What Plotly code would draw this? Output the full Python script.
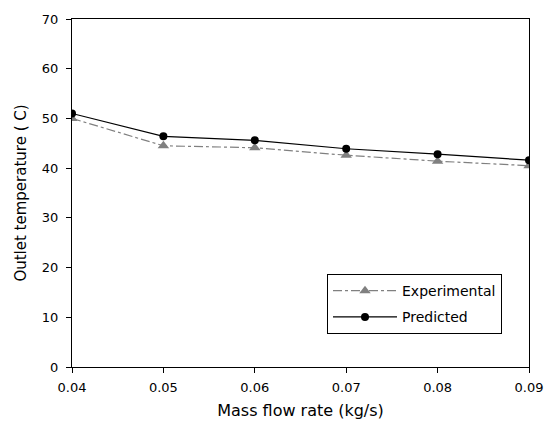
import plotly.graph_objects as go

mass_flow = [0.04, 0.05, 0.06, 0.07, 0.08, 0.09]
experimental = [50.0, 44.5, 44.1, 42.6, 41.4, 40.5]
predicted = [51.0, 46.4, 45.6, 43.9, 42.8, 41.6]

x_ticks = [0.04, 0.05, 0.06, 0.07, 0.08, 0.09]
x_tick_labels = ["0.04", "0.05", "0.06", "0.07", "0.08", "0.09"]
y_ticks = [0, 10, 20, 30, 40, 50, 60, 70]

FONT = "DejaVu Sans, Liberation Sans, Arial, sans-serif"

fig = go.Figure()
fig.add_trace(go.Scatter(
    x=mass_flow, y=experimental, name="Experimental", mode="lines+markers",
    legendgroup="a",
    line=dict(color="#808080", width=1.2, dash="dashdot"),
    marker=dict(symbol="triangle-up", size=10, color="#808080"),
))
fig.add_trace(go.Scatter(
    x=mass_flow, y=predicted, name="Predicted", mode="lines+markers",
    legendgroup="b",
    line=dict(color="#000000", width=1.2),
    marker=dict(symbol="circle", size=8, color="#000000"),
))

tick_font = dict(family=FONT, size=13, color="#000000")

fig.update_layout(
    width=555, height=429,
    margin=dict(l=72, r=17, t=15, b=58),
    paper_bgcolor="white", plot_bgcolor="white",
    font=tick_font,
    showlegend=True,
    legend=dict(
        x=0.558, y=0.267, xanchor="left", yanchor="top",
        bordercolor="#000000", borderwidth=1, bgcolor="white",
        font=dict(family=FONT, size=14, color="#000000"),
        tracegroupgap=5, itemwidth=64,
    ),
    xaxis=dict(
        range=[0.04, 0.09], tickvals=x_ticks, ticktext=x_tick_labels,
        ticks="outside", ticklen=5, tickcolor="#000000", tickwidth=1,
        ticklabelstandoff=3,
        showline=True, linecolor="#000000", linewidth=1, mirror=True,
        showgrid=False, zeroline=False,
        title=dict(text="Mass flow rate (kg/s)", standoff=11,
                   font=dict(family=FONT, size=16, color="#000000")),
        tickfont=tick_font,
    ),
    yaxis=dict(
        range=[0, 70], tickvals=y_ticks,
        ticks="outside", ticklen=5, tickcolor="#000000", tickwidth=1,
        ticklabelstandoff=5,
        showline=True, linecolor="#000000", linewidth=1, mirror=True,
        showgrid=False, zeroline=False,
        title=dict(text="Outlet temperature ( C)", standoff=11,
                   font=dict(family=FONT, size=15, color="#000000")),
        tickfont=tick_font,
    ),
)

# remove the browser's default 8px body margin so the figure fills the window
fig.write_html(
    "out.html",
    config={"displayModeBar": False},
    post_script="document.body.style.margin='0';document.body.style.overflow='hidden';",
)
